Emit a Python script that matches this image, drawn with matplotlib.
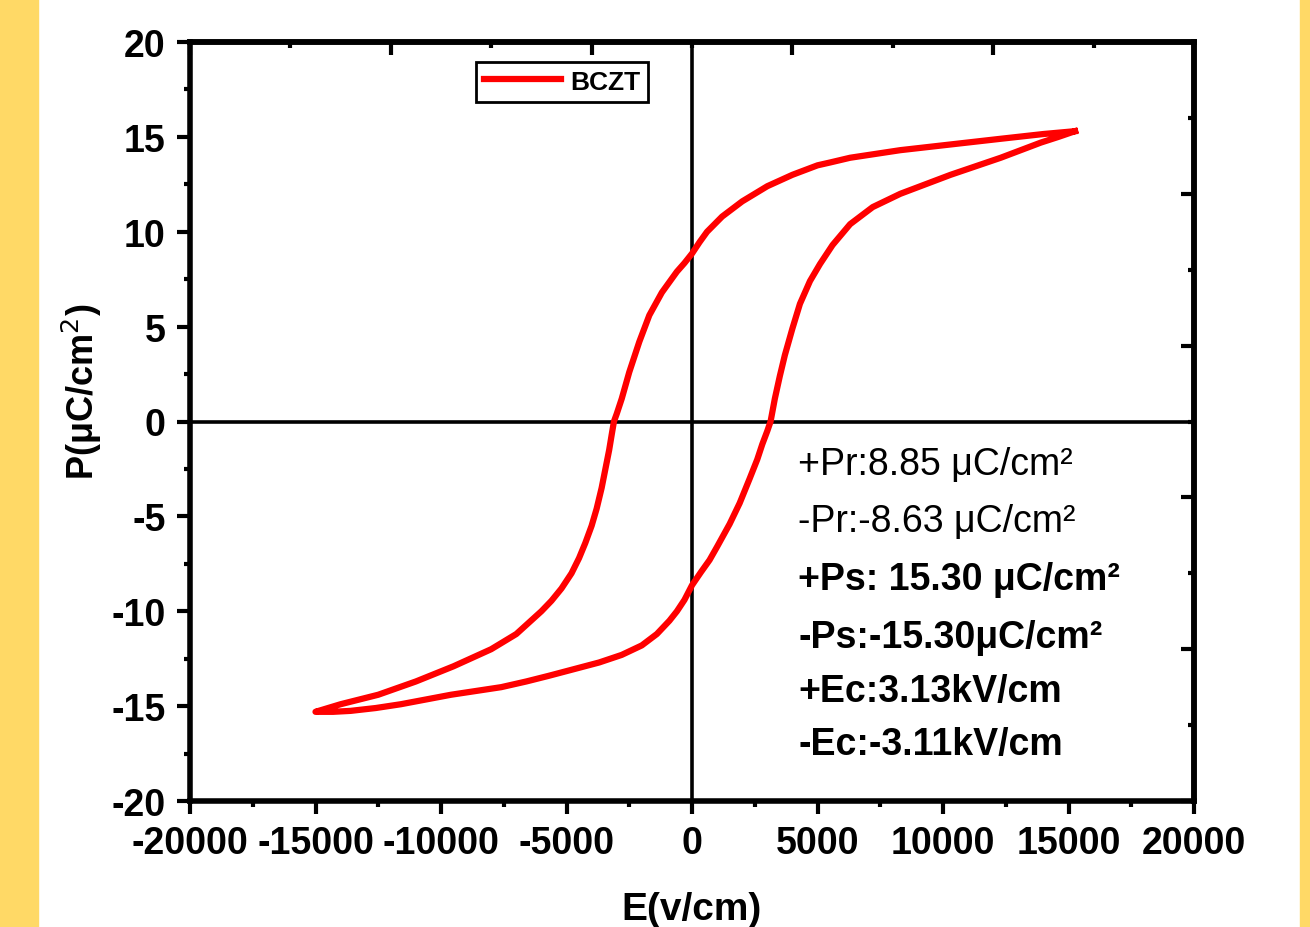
import matplotlib
matplotlib.use("Agg")
import matplotlib.pyplot as plt
import matplotlib.patches as mpatches
import numpy as np

plt.rcParams['font.family'] = ['Liberation Sans', 'DejaVu Sans']
plt.rcParams['axes.unicode_minus'] = False

# P-E loop, upper branch (+Ps -> -Ps), E in V/cm, P in uC/cm2
E_upper = [15260, 14000, 12300, 10300, 8300, 7300, 6300, 5500, 5000, 4500,
           4000, 3500, 3000, 2500, 2000, 1600, 1200, 900, 600, 300, 0,
           -300, -600, -900, -1200, -1450, -1700, -1900, -2100, -2500,
           -2800, -3000, -3110, -3200, -3300, -3450, -3600, -3800, -4000,
           -4250, -4500, -4800, -5200, -5600, -6000, -6500, -7000, -8000,
           -9500, -11000, -12500, -14000, -14500, -15000]
P_upper = [15.3, 15.15, 14.9, 14.6, 14.3, 14.1, 13.9, 13.65, 13.5, 13.25,
           13.0, 12.7, 12.4, 12.0, 11.6, 11.2, 10.8, 10.4, 10.0, 9.45, 8.85,
           8.35, 7.9, 7.35, 6.8, 6.2, 5.6, 4.9, 4.2, 2.6,
           1.2, 0.4, 0.0, -0.7, -1.5, -2.5, -3.5, -4.6, -5.5,
           -6.4, -7.2, -8.0, -8.8, -9.45, -10.0, -10.6, -11.2, -12.0,
           -12.9, -13.7, -14.4, -14.9, -15.1, -15.3]

# lower branch (-Ps -> +Ps)
E_lower = [-15000, -14300, -13600, -12600, -11600, -10600, -9600, -8600,
           -7600, -6600, -5700, -4700, -3700, -2800, -2000, -1400, -900,
           -600, -300, 0, 350, 700, 1000, 1500, 1900, 2300, 2600, 2800, 3000,
           3130, 3300, 3500, 3700, 4000, 4300, 4700, 5100, 5600, 6300,
           7200, 8300, 9300, 10300, 12300, 13900, 14600, 15260]
P_lower = [-15.3, -15.3, -15.25, -15.1, -14.9, -14.65, -14.4, -14.2,
           -14.0, -13.7, -13.4, -13.05, -12.7, -12.3, -11.8, -11.2, -10.5,
           -10.0, -9.4, -8.63, -7.95, -7.3, -6.6, -5.4, -4.3, -3.0, -2.0, -1.2, -0.5,
           0.0, 1.2, 2.4, 3.5, 4.9, 6.2, 7.4, 8.3, 9.3, 10.4,
           11.3, 12.0, 12.5, 13.0, 13.9, 14.7, 15.0, 15.3]

notes = ['+Pr:8.85 μC/cm²', '-Pr:-8.63 μC/cm²', '+Ps: 15.30 μC/cm²',
         '-Ps:-15.30μC/cm²', '+Ec:3.13kV/cm', '-Ec:-3.11kV/cm']
note_bold = [False, False, True, True, True, True]

fig = plt.figure(figsize=(13.1, 9.28), dpi=100, facecolor='white')

# yellow page borders
yellow = '#FFD966'
fig.patches.append(mpatches.Rectangle((0, 0), 38 / 1310, 1, transform=fig.transFigure,
                                      color=yellow, zorder=0))
fig.patches.append(mpatches.Rectangle((1300 / 1310, 0), 10 / 1310, 1, transform=fig.transFigure,
                                      color=yellow, zorder=0))

ax = fig.add_axes([190 / 1310, 1 - 802 / 928, 1004 / 1310, 759 / 928])

ax.axhline(0, color='black', lw=2.6, zorder=1)
ax.axvline(0, color='black', lw=2.6, zorder=1)

E_loop = E_upper + E_lower
P_loop = P_upper + P_lower
ax.plot(E_loop, P_loop, color='#FF0000', lw=4.5, solid_joinstyle='round',
        label='BCZT', zorder=3)

ax.set_xlim(-20000, 20000)
ax.set_ylim(-20, 20)
ax.set_xticks(np.arange(-20000, 20001, 5000))
ax.set_xticks(np.arange(-17500, 20000, 5000), minor=True)
ax.set_yticks(np.arange(-20, 21, 5))
ax.set_yticks(np.arange(-17.5, 20, 5), minor=True)

for s in ax.spines.values():
    s.set_linewidth(4)

ax.tick_params(which='major', direction='out', length=9.5, width=3, pad=8,
               labelsize=27)
ax.tick_params(which='minor', direction='out', length=4, width=3)
for lab in ax.get_xticklabels() + ax.get_yticklabels():
    lab.set_fontweight('bold')

# top and right axes carry their own tick spacing
top = ax.secondary_xaxis('top')
top.set_xticks(np.arange(-20000, 20001, 8000))
top.set_xticks(np.arange(-16000, 20000, 8000), minor=True)
top.tick_params(which='major', direction='in', length=9.5, width=3, labeltop=False)
top.tick_params(which='minor', direction='in', length=4, width=3)
top.spines['top'].set_linewidth(4)

right = ax.secondary_yaxis('right')
right.set_yticks(np.arange(-20, 21, 8))
right.set_yticks(np.arange(-16, 20, 8), minor=True)
right.tick_params(which='major', direction='in', length=9.5, width=3, labelright=False)
right.tick_params(which='minor', direction='in', length=4, width=3)
right.spines['right'].set_linewidth(4)

leg = ax.legend(loc='upper left', bbox_to_anchor=(0.285, 0.974),
                prop={'weight': 'bold', 'size': 19}, handlelength=2.9,
                handletextpad=0.35, borderpad=0.3, borderaxespad=0,
                fancybox=False, framealpha=1, edgecolor='black')
leg.get_frame().set_linewidth(2)

ys = [0.444, 0.369, 0.2925, 0.216, 0.145, 0.075]
for txt, y, b in zip(notes, ys, note_bold):
    ax.text(0.606, y, txt, transform=ax.transAxes, fontsize=27,
            fontweight='bold' if b else 'normal', va='center', ha='left')

fig.text(82 / 1310, 1 - 392 / 928, 'P(μC/cm$^2$)', rotation=90, fontsize=26,
         fontweight='bold', ha='center', va='center')
fig.text(692 / 1310, 1 - 910 / 928, 'E(v/cm)', fontsize=28, fontweight='bold',
         ha='center', va='center')

fig.savefig('out.png', dpi=100, facecolor='white')
